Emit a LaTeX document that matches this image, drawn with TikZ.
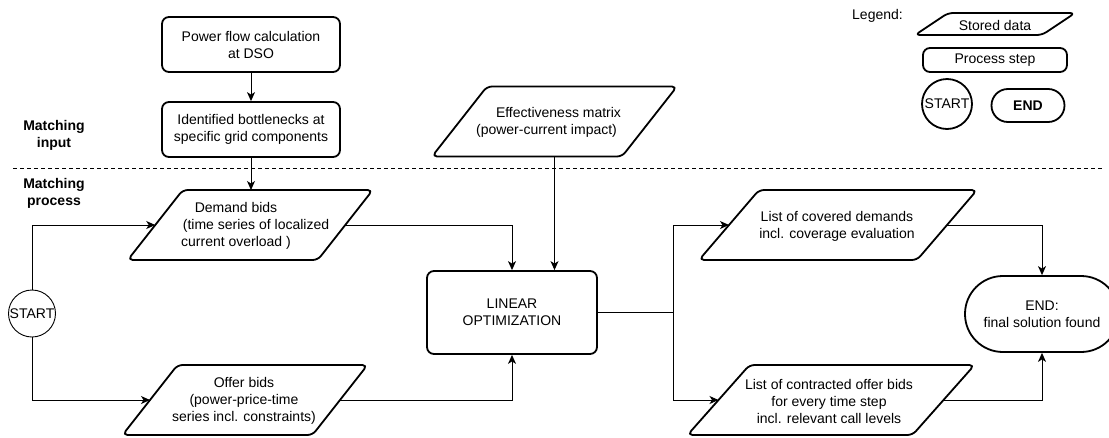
\documentclass[tikz,border=0pt]{standalone}
\usepackage{fontspec}
\setmainfont{Liberation Sans}
\usetikzlibrary{arrows.meta,calc}

% Stored-data parallelogram: name, centre x, centre y, width, height, slant, text
\newcommand\storeddata[7]{%
  \draw[shapeline, rounded corners=5pt]
    (#2-#4/2-#6/2, #3+#5/2) -- (#2+#4/2-#6/2, #3+#5/2) --
    (#2+#4/2+#6/2, #3-#5/2) -- (#2-#4/2+#6/2, #3-#5/2) -- cycle;
  \coordinate (#1-l) at (#2-#4/2, #3);
  \coordinate (#1-r) at (#2+#4/2, #3);
  \coordinate (#1-t) at (#2, #3-#5/2);
  \coordinate (#1-b) at (#2, #3+#5/2);
}

\tikzset{
  shapeline/.style={line width=1.8pt, line join=round},
  procbox/.style={draw, shapeline, rounded corners=7pt, align=center, inner sep=0pt},
  txt/.style={align=center, inner sep=0pt},
  conn/.style={line width=1pt, -{Stealth[length=9pt, width=8pt, inset=2.5pt]}},
  wire/.style={line width=1pt},
  divider/.style={line width=1pt, dash pattern=on 4pt off 3pt},
}

\begin{document}
\begin{tikzpicture}[x=1pt, y=-1pt, font=\fontsize{14}{17}\selectfont]
\useasboundingbox (0,0) rectangle (1109,437);

% --- section labels and divider ---
\node[txt, font=\fontsize{14}{17}\selectfont\bfseries] (lblin) at (54,135.5) {Matching\\input};
\node[txt, font=\fontsize{14}{17}\selectfont\bfseries] (lblproc) at (54,193.5) {Matching\\process};
\coordinate (divl) at (13,168);
\coordinate (divr) at (1104,168);
\draw[divider] (divl) -- (divr);

% --- matching input ---
\node[procbox, minimum width=178pt, minimum height=55pt] (pf) at (251,44.5)
  {Power flow calculation\\at DSO};
\node[procbox, minimum width=178pt, minimum height=55pt] (bn) at (251,129.5)
  {Identified bottlenecks at\\specific grid components};

\storeddata{eff}{554.5}{121.5}{190}{70}{55}{}
\node[txt] (efftxt) at (552.5,122.5)
  {\hspace*{12pt}Effectiveness matrix\\(power-current impact)\hspace{12pt}\mbox{}};

% --- matching process ---
\storeddata{demand}{250.25}{225}{190}{70}{55}{}
\node[txt] (demandtxt) at (236,226)
  {Demand bids\\\hspace*{40pt}(time series of localized\\current overload )};

\storeddata{offer}{245}{400}{190}{70}{55}{}
\node[txt] (offertxt) at (244,401)
  {Offer bids\\(power-price-time\\series incl. constraints)};

\node[draw, circle, line width=0.9pt, minimum size=47pt, inner sep=0pt] (start) at (32,313.5) {START};

\node[procbox, minimum width=170pt, minimum height=83pt] (lo) at (512,312.5)
  {LINEAR\\OPTIMIZATION};

\storeddata{cov}{838}{225}{218}{70}{60}{}
\node[txt] (covtxt) at (837,226)
  {List of covered demands\\incl. coverage evaluation};

\storeddata{con}{831}{400}{225}{70}{62}{}
\node[txt] (contxt) at (829,401)
  {List of contracted offer bids\\for every time step\\incl. relevant call levels};

\node[draw, shapeline, rounded corners=37.9pt, minimum width=154pt, minimum height=76pt,
      align=center, inner sep=0pt] (end) at (1042,314) {END:\\final solution found};

% --- connectors ---
\draw[conn] (pf.south) -- (bn.north);
\draw[conn] (bn.south) -- (bn.south |- demand-t);
\draw[conn] (start.north) |- (demand-l);
\draw[conn] (start.south) |- (offer-l);
\draw[conn] (demand-r) -| (lo.north);
\draw[conn] (offer-r) -| (lo.south);
\draw[conn] (eff-b) -- (eff-b |- lo.north);
\coordinate (split) at (673,312.5);
\draw[wire] (lo.east) -- (split);
\draw[conn] (split) |- (cov-l);
\draw[conn] (split) |- (con-l);
\draw[conn] (cov-r) -| (end.north);
\draw[conn] (con-r) -| (end.south);

% --- legend ---
\node[txt, anchor=west] (legend) at (852,16) {Legend:};
\storeddata{legdata}{995}{24}{127}{22}{33}{}
\node[txt] (legdatatxt) at (995,25) {Stored data};
\node[procbox, minimum width=144pt, minimum height=24pt] (legproc) at (995,60) {Process step};
\node[draw, circle, shapeline, minimum size=50pt, inner sep=0pt] (legstart) at (947,104) {START};
\node[draw, shapeline, rounded corners=16.4pt, minimum width=73pt, minimum height=33pt,
      inner sep=0pt, font=\fontsize{14}{17}\selectfont\bfseries] (legend-end) at (1028,105.5) {END};
\end{tikzpicture}
\end{document}
